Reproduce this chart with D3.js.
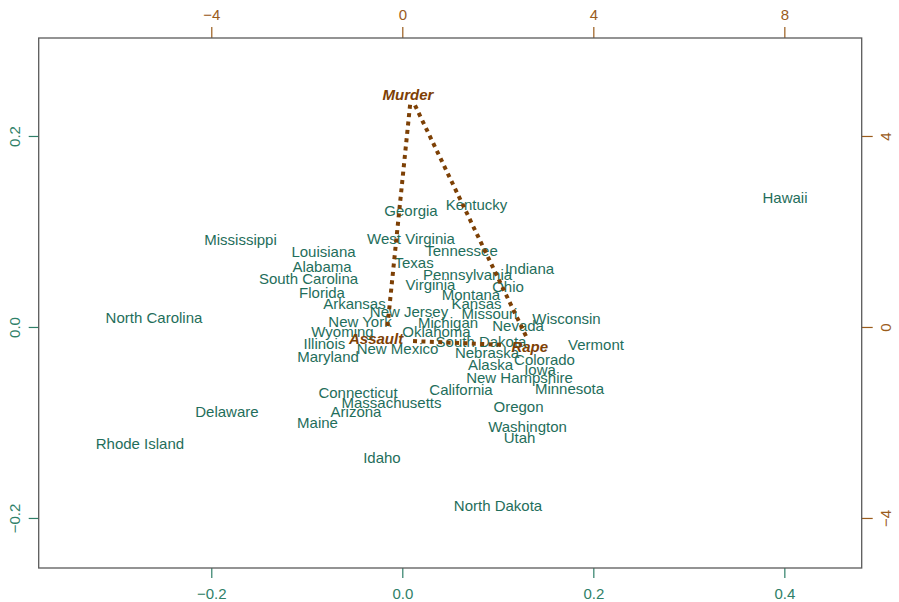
<!DOCTYPE html>
<html>
<head>
<meta charset="utf-8">
<script src="https://cdn.jsdelivr.net/npm/d3@7"></script>
<style>
  body { margin: 0; background: #fff; }
  svg { display: block; font-family: "Liberation Sans", Arial, sans-serif; }
</style>
</head>
<body>
<svg id="chart" width="899" height="602"></svg>
<script>
// Observation scores (first two components)
const states = ["Alabama","Alaska","Arizona","Arkansas","California","Colorado","Connecticut","Delaware","Florida","Georgia","Hawaii","Idaho","Illinois","Indiana","Iowa","Kansas","Kentucky","Louisiana","Maine","Maryland","Massachusetts","Michigan","Minnesota","Mississippi","Missouri","Montana","Nebraska","Nevada","New Hampshire","New Jersey","New Mexico","New York","North Carolina","North Dakota","Ohio","Oklahoma","Oregon","Pennsylvania","Rhode Island","South Carolina","South Dakota","Tennessee","Texas","Utah","Vermont","Virginia","Washington","West Virginia","Wisconsin","Wyoming"];
const scoreX = [-0.0841,0.0924,-0.0485,-0.0501,0.0615,0.1489,-0.0464,-0.1836,-0.0841,0.0091,0.4007,-0.0213,-0.0815,0.1332,0.1442,0.0777,0.0777,-0.0825,-0.0888,-0.0778,-0.0113,0.0479,0.1751,-0.1694,0.0913,0.0719,0.0887,0.1212,0.1227,0.0070,-0.0050,-0.0443,-0.2600,0.1002,0.1107,0.0358,0.1217,0.0683,-0.2747,-0.0982,0.0824,0.0620,0.0123,0.1227,0.2028,0.0295,0.1311,0.0091,0.1719,-0.0626];
const scoreY = [0.0631,-0.0391,-0.0887,0.0241,-0.0652,-0.0346,-0.0688,-0.0887,0.0356,0.1218,0.1351,-0.1364,-0.0171,0.0615,-0.0450,0.0248,0.1277,0.0788,-0.1002,-0.0311,-0.0793,0.0042,-0.0649,0.0911,0.0136,0.0335,-0.0269,0.0014,-0.0531,0.0160,-0.0230,0.0055,0.0097,-0.1874,0.0422,-0.0049,-0.0835,0.0545,-0.1218,0.0503,-0.0154,0.0799,0.0673,-0.1159,-0.0188,0.0440,-0.1044,0.0921,0.0091,-0.0049];

// Variable loadings (secondary axes)
const variables = ["Murder","Assault","Rape"];
const loadX = [0.18,-0.34,2.69];
const loadY = [4.82,-0.27,-0.40];

// Tick values
const xTicks = [-0.2,0.0,0.2,0.4];
const yTicks = [-0.2,0.0,0.2];
const x2Ticks = [-4,0,4,8];
const y2Ticks = [-4,0,4];

const svg = d3.select("#chart");
const plotLeft = 38.7, plotRight = 861.7, plotTop = 38, plotBottom = 568;

const x = d3.scaleLinear().domain([-0.3807, 0.481]).range([plotLeft, plotRight]);
const y = d3.scaleLinear().domain([-0.2524, 0.3026]).range([plotBottom, plotTop]);
const x2 = d3.scaleLinear().domain(x.domain().map(d => d * 20)).range([plotLeft, plotRight]);
const y2 = d3.scaleLinear().domain(y.domain().map(d => d * 20)).range([plotBottom, plotTop]);

const teal = "#1f6e5b", tealAxis = "#2f7f68";
const brown = "#7d4005", brownAxis = "#9a5c1c";
const fmt1 = d3.format(".1f");
const fmt0 = d3.format("d");

function styleAxis(g, color) {
  g.select(".domain").remove();
  g.selectAll(".tick line").attr("stroke", color).attr("stroke-width", 1.2);
  g.selectAll(".tick text").attr("fill", color).style("font-size", "15px")
    .style("font-family", '"Liberation Sans", Arial, sans-serif');
}

// bottom axis
svg.append("g").attr("transform", `translate(0,${plotBottom})`)
  .call(d3.axisBottom(x).tickValues(xTicks).tickFormat(fmt1).tickSizeInner(10).tickSizeOuter(0).tickPadding(10))
  .call(g => styleAxis(g, tealAxis));

// left axis, labels parallel to the axis
svg.append("g").attr("transform", `translate(${plotLeft},0)`)
  .call(d3.axisLeft(y).tickValues(yTicks).tickFormat(fmt1).tickSizeInner(10).tickSizeOuter(0))
  .call(g => styleAxis(g, tealAxis))
  .call(g => g.selectAll(".tick text")
    .attr("text-anchor", "middle").attr("transform", "rotate(-90)")
    .attr("x", 0).attr("y", -19).attr("dy", 0));

// top axis
svg.append("g").attr("transform", `translate(0,${plotTop})`)
  .call(d3.axisTop(x2).tickValues(x2Ticks).tickFormat(fmt0).tickSizeInner(11).tickSizeOuter(0).tickPadding(7))
  .call(g => styleAxis(g, brownAxis));

// right axis, labels parallel to the axis
svg.append("g").attr("transform", `translate(${plotRight},0)`)
  .call(d3.axisRight(y2).tickValues(y2Ticks).tickFormat(fmt0).tickSizeInner(11).tickSizeOuter(0))
  .call(g => styleAxis(g, brownAxis))
  .call(g => g.selectAll(".tick text")
    .attr("text-anchor", "middle").attr("transform", "rotate(-90)")
    .attr("x", 0).attr("y", 29).attr("dy", 0));

// plot frame
svg.append("rect")
  .attr("x", plotLeft).attr("y", plotTop)
  .attr("width", plotRight - plotLeft).attr("height", plotBottom - plotTop)
  .attr("fill", "none").attr("stroke", "#5a5a5a").attr("stroke-width", 1.3);

// state labels
svg.append("g").selectAll("text")
  .data(states)
  .join("text")
  .attr("x", (d, i) => x(scoreX[i]))
  .attr("y", (d, i) => y(scoreY[i]))
  .attr("dy", "0.36em")
  .attr("text-anchor", "middle")
  .attr("fill", teal)
  .style("font-size", "15px")
  .text(d => d);

// dotted edges between the variable points, trimmed near each end
const edges = [[0, 1, 8, 11], [0, 2, 9.5, 9.5], [1, 2, 27, 26]];
const pts = variables.map((v, i) => [x2(loadX[i]), y2(loadY[i])]);
svg.append("g").selectAll("line")
  .data(edges)
  .join("line")
  .each(function ([a, b, ga, gb]) {
    const [xa, ya] = pts[a], [xb, yb] = pts[b];
    const len = Math.hypot(xb - xa, yb - ya);
    const ux = (xb - xa) / len, uy = (yb - ya) / len;
    d3.select(this)
      .attr("x1", xa + ux * ga).attr("y1", ya + uy * ga)
      .attr("x2", xb - ux * gb).attr("y2", yb - uy * gb);
  })
  .attr("stroke", brown)
  .attr("stroke-width", 4)
  .attr("stroke-dasharray", "4 4.4");

// variable labels
const labelShift = [[-3, -2], [-10, -1], [-1, 1]];
svg.append("g").selectAll("text")
  .data(variables)
  .join("text")
  .attr("x", (d, i) => pts[i][0] + labelShift[i][0])
  .attr("y", (d, i) => pts[i][1] + labelShift[i][1])
  .attr("dy", "0.36em")
  .attr("text-anchor", "middle")
  .attr("fill", brown)
  .style("font-size", "15px")
  .style("font-weight", "bold")
  .style("font-style", "italic")
  .text(d => d);
</script>
</body>
</html>
